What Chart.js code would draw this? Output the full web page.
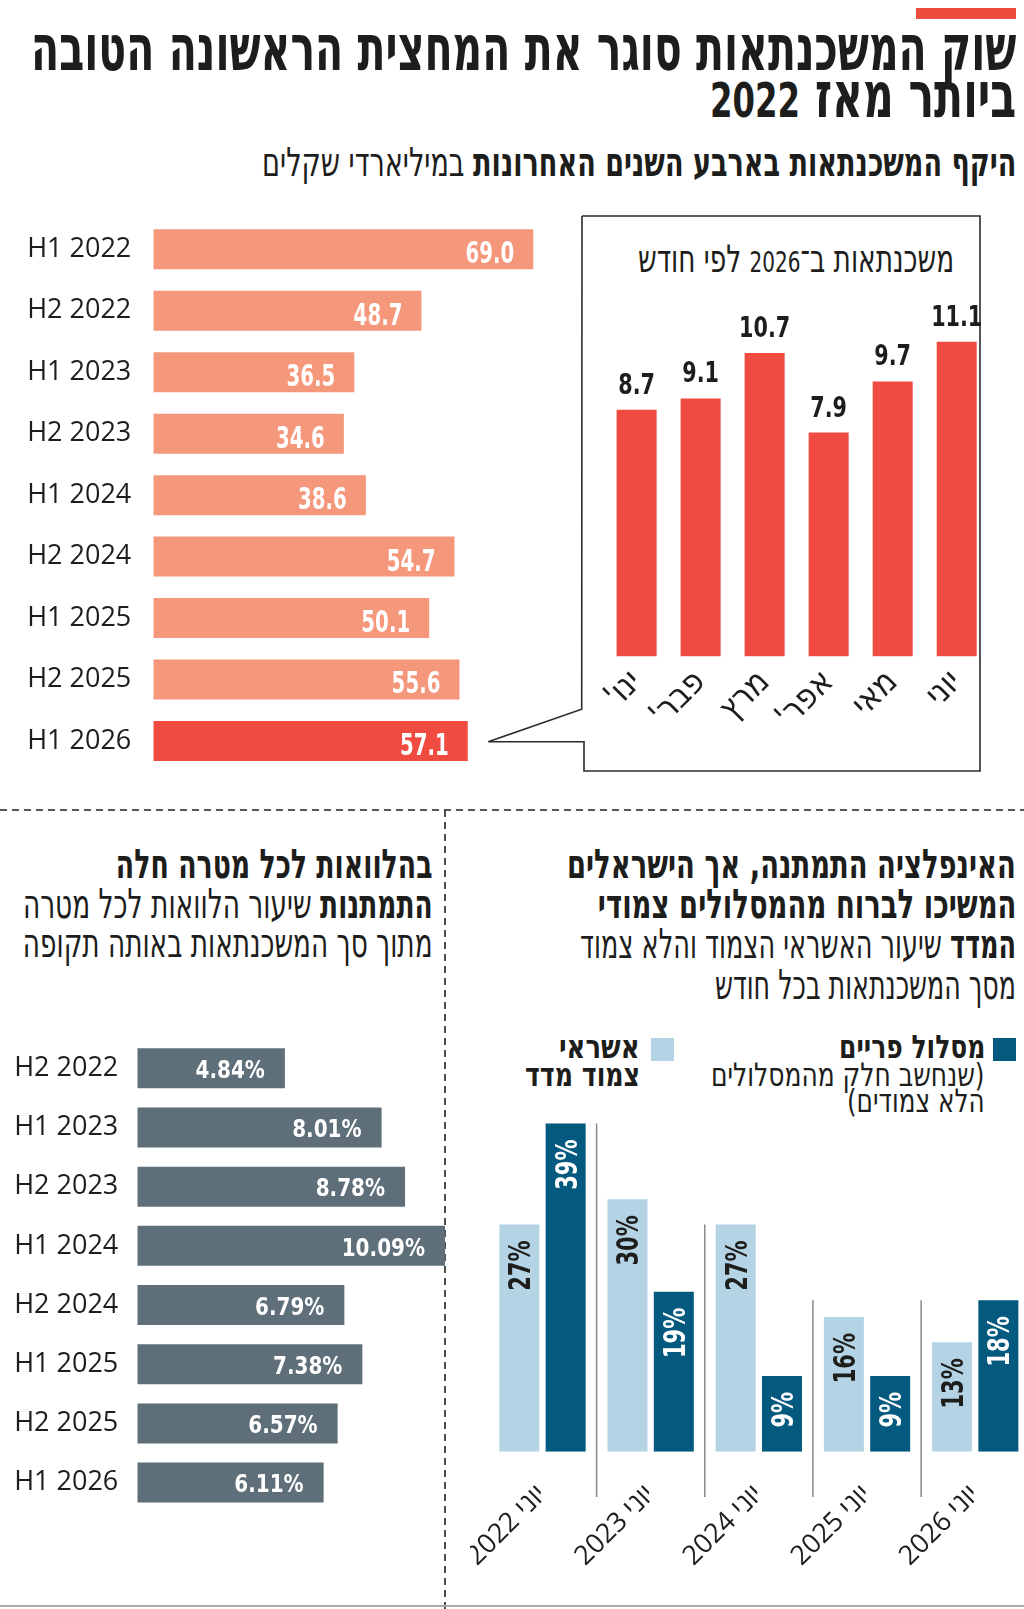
<!DOCTYPE html>
<html lang="he">
<head>
<meta charset="utf-8">
<script src="https://cdn.jsdelivr.net/npm/chart.js@4.4.1/dist/chart.umd.min.js"></script>
<style>
  html, body { margin: 0; padding: 0; background: #fff; }
  body { width: 1024px; height: 1609px; position: relative; overflow: hidden;
         font-family: 'DejaVu Sans Condensed', 'DejaVu Sans', sans-serif; color: #1d1d1b; }
  .ln { position: absolute; white-space: nowrap; direction: rtl; line-height: 1; transform-origin: 100% 50%; }
  .b { font-weight: bold; }
  .num { font-size: 0.76em; }
  .cv { position: absolute; }
  .sq { position: absolute; width: 23px; height: 23px; }
</style>
</head>
<body>

<!-- קישוטים: פס אדום, מסגרת עם חץ, קווים מקווקווים -->
<div style="position:absolute;left:916px;top:8px;width:100px;height:11px;background:#ee4b3f"></div>
<svg width="1024" height="1609" style="position:absolute;left:0;top:0">
  <polyline points="582,216 980,216 980,771 584,771 584,741.7 488.3,741.7 581.7,709.3 582,216"
            fill="none" stroke="#2b2b2b" stroke-width="1.6"/>
  <line x1="0" y1="810" x2="1024" y2="810" stroke="#222" stroke-width="1.6" stroke-dasharray="7 5"/>
  <line x1="445" y1="810" x2="445" y2="1609" stroke="#222" stroke-width="1.6" stroke-dasharray="7 5"/>
  <line x1="0" y1="1606" x2="1024" y2="1606" stroke="#aaa" stroke-width="2"/>
</svg>

<!-- כותרות -->
<div class="ln b" style="right:8px;top:16px;font-size:64px" data-w="985">שוק המשכנתאות סוגר את המחצית הראשונה הטובה</div>
<div class="ln b" style="right:8px;top:63px;font-size:64px" data-w="306">ביותר מאז <span class="num">2022</span></div>
<div class="ln" style="right:8px;top:142px;font-size:40px" data-w="754"><span class="b">היקף המשכנתאות בארבע השנים האחרונות</span> במיליארדי שקלים</div>
<div class="ln" style="right:70px;top:240px;font-size:38px" data-w="316">משכנתאות ב־<span class="num">2026</span> לפי חודש</div>

<div class="ln b" style="right:591px;top:844px;font-size:41px" data-w="317">בהלוואות לכל מטרה חלה</div>
<div class="ln" style="right:591px;top:884px;font-size:41px" data-w="410"><span class="b">התמתנות</span> שיעור הלוואות לכל מטרה</div>
<div class="ln" style="right:591px;top:923px;font-size:41px" data-w="410">מתוך סך המשכנתאות באותה תקופה</div>

<div class="ln b" style="right:8px;top:844px;font-size:41px" data-w="449">האינפלציה התמתנה, אך הישראלים</div>
<div class="ln b" style="right:8px;top:884px;font-size:41px" data-w="419">המשיכו לברוח מהמסלולים צמודי</div>
<div class="ln" style="right:8px;top:924px;font-size:41px" data-w="436"><span class="b">המדד</span> שיעור האשראי הצמוד והלא צמוד</div>
<div class="ln" style="right:8px;top:965px;font-size:41px" data-w="301">מסך המשכנתאות בכל חודש</div>

<!-- מקרא -->
<div class="sq" style="left:993px;top:1038px;background:#03597e"></div>
<div class="ln b" style="right:39px;top:1031px;font-size:32px" data-w="146">מסלול פריים</div>
<div class="ln" style="right:39px;top:1059px;font-size:32px" data-w="274">(שנחשב חלק מהמסלולים</div>
<div class="ln" style="right:39px;top:1085px;font-size:32px" data-w="138">הלא צמודים)</div>
<div class="sq" style="left:651px;top:1038px;background:#b4d4e6"></div>
<div class="ln b" style="right:384px;top:1031px;font-size:32px" data-w="81">אשראי</div>
<div class="ln b" style="right:384px;top:1059px;font-size:32px" data-w="115">צמוד מדד</div>

<div class="cv" style="left:0;top:200px"><canvas id="volumeChart" width="580" height="590"></canvas></div>
<div class="cv" style="left:570px;top:290px"><canvas id="monthChart" width="440" height="490" dir="rtl"></canvas></div>
<div class="cv" style="left:0;top:1020px"><canvas id="loanChart" width="460" height="520"></canvas></div>
<div class="cv" style="left:470px;top:1090px"><canvas id="linkChart" width="570" height="519" dir="rtl"></canvas></div>

<script>
// --- נתונים ---
const halfLabels = ['H1 2022', 'H2 2022', 'H1 2023', 'H2 2023', 'H1 2024', 'H2 2024', 'H1 2025', 'H2 2025', 'H1 2026'];
const volumeValues = [69.0, 48.7, 36.5, 34.6, 38.6, 54.7, 50.1, 55.6, 57.1];

const monthLabels = ["ינו'", "פבר'", 'מרץ', "אפר'", 'מאי', 'יוני'];
const monthValues = [8.7, 9.1, 10.7, 7.9, 9.7, 11.1];

const loanLabels = ['H2 2022', 'H1 2023', 'H2 2023', 'H1 2024', 'H2 2024', 'H1 2025', 'H2 2025', 'H1 2026'];
const loanValues = [4.84, 8.01, 8.78, 10.09, 6.79, 7.38, 6.57, 6.11];

const yearLabels = ['יוני 2022', 'יוני 2023', 'יוני 2024', 'יוני 2025', 'יוני 2026'];
const indexedShare = [27, 30, 27, 16, 13];   // אשראי צמוד מדד
const primeShare = [39, 19, 9, 9, 18];       // מסלול פריים
const separatorTops = [39, 27, 18, 18];

// מתיחת שורות הטקסט לרוחב שבמקור
document.querySelectorAll('.ln').forEach(el => {
    const w = +el.dataset.w;
    el.style.transform = `scaleX(${w / el.offsetWidth})`;
});

const TXT = '#1d1d1b';
Chart.defaults.animation = false;
Chart.defaults.font.family = "'Open Sans', 'DejaVu Sans', sans-serif";
Chart.defaults.plugins.legend.display = false;
Chart.defaults.plugins.tooltip.enabled = false;

// תוויות ערכים על העמודות (גופן צר)
const valueLabels = {
    id: 'valueLabels',
    afterDatasetsDraw(chart, args, o) {
        if (!o || !o.mode) return;
        const ctx = chart.ctx;
        chart.data.datasets.forEach((ds, di) => {
            chart.getDatasetMeta(di).data.forEach((bar, i) => {
                const txt = o.format(ds.data[i]);
                const dh = o.size * 0.729;
                ctx.save();
                ctx.font = `bold ${o.size}px 'DejaVu Sans'`;
                ctx.fillStyle = o.colors[di];
                ctx.textBaseline = 'alphabetic';
                if (o.mode === 'end') {
                    ctx.translate(bar.x - o.pad, bar.y + o.dy + dh / 2);
                    ctx.scale(o.sx, 1);
                    ctx.textAlign = 'right';
                } else if (o.mode === 'top') {
                    ctx.translate(bar.x, bar.y - o.pad);
                    ctx.scale(o.sx, 1);
                    ctx.textAlign = 'center';
                } else {
                    ctx.translate(bar.x + dh / 2, bar.y + o.pad);
                    ctx.rotate(-Math.PI / 2);
                    ctx.scale(o.sx, 1);
                    ctx.textAlign = 'right';
                }
                ctx.fillText(txt, 0, 0);
                ctx.restore();
            });
        });
    }
};

// קווי הפרדה בין השנים
const groupSeparators = {
    id: 'groupSeparators',
    beforeDatasetsDraw(chart, args, o) {
        if (!o || !o.tops) return;
        const ctx = chart.ctx, x = chart.scales.x, y = chart.scales.y;
        ctx.save();
        ctx.strokeStyle = '#8a8a8a';
        ctx.lineWidth = 1.5;
        o.tops.forEach((v, i) => {
            const px = (x.getPixelForTick(i) + x.getPixelForTick(i + 1)) / 2;
            ctx.beginPath();
            ctx.moveTo(px, y.getPixelForValue(v));
            ctx.lineTo(px, y.getPixelForValue(0) + o.below);
            ctx.stroke();
        });
        ctx.restore();
    }
};
Chart.register(valueLabels, groupSeparators);

const noGrid = { display: false, drawTicks: false };
// הצירים לא יבקשו מקום נוסף לתוויות בקצוות
const fitY = w => s => { s.width = w; s.paddingTop = 0; s.paddingBottom = 0; };
const fitX = h => s => { s.height = h; s.paddingLeft = 0; s.paddingRight = 0; };

// היקף המשכנתאות לפי חצי שנה
new Chart(document.getElementById('volumeChart'), {
    type: 'bar',
    data: {
        labels: halfLabels,
        datasets: [{
            data: volumeValues,
            backgroundColor: volumeValues.map((v, i) => i === volumeValues.length - 1 ? '#ef4b40' : '#f5977b'),
            barPercentage: 0.651, categoryPercentage: 1
        }]
    },
    options: {
        responsive: false, indexAxis: 'y',
        layout: { padding: { top: 18.6, bottom: 18.3, left: 0, right: 13.7 } },
        scales: {
            x: { display: false, min: 0, max: 75 },
            y: {
                grid: noGrid, border: { display: false },
                ticks: { color: TXT, padding: 22, font: { size: 27 } },
                afterFit: fitY(153.3)
            }
        },
        plugins: { valueLabels: { mode: 'end', size: 30, sx: 0.66, pad: 19, dy: 3, colors: ['#fff'], format: v => v.toFixed(1) } }
    }
});

// משכנתאות 2026 לפי חודש
new Chart(document.getElementById('monthChart'), {
    type: 'bar',
    data: {
        labels: monthLabels,
        datasets: [{ data: monthValues, backgroundColor: '#ef4b40', barPercentage: 0.625, categoryPercentage: 1 }]
    },
    options: {
        responsive: false,
        layout: { padding: { top: 26.2, bottom: 0, left: 34.6, right: 21.3 } },
        scales: {
            y: { display: false, min: 0, max: 12 },
            x: {
                grid: noGrid, border: { display: false },
                ticks: { color: TXT, padding: 6, maxRotation: 45, minRotation: 45, autoSkip: false,
                         font: { size: 34, family: "'DejaVu Sans Condensed', 'DejaVu Sans'" } },
                afterFit: fitX(123.4)
            }
        },
        plugins: { valueLabels: { mode: 'top', size: 28, sx: 0.74, pad: 16, colors: [TXT], format: v => v.toFixed(1) } }
    }
});

// הלוואות לכל מטרה
new Chart(document.getElementById('loanChart'), {
    type: 'bar',
    data: {
        labels: loanLabels,
        datasets: [{ data: loanValues, backgroundColor: '#5f6f7a', barPercentage: 0.676, categoryPercentage: 1 }]
    },
    options: {
        responsive: false, indexAxis: 'y',
        layout: { padding: { top: 18.7, bottom: 27.8, left: 0, right: 2.5 } },
        scales: {
            x: { display: false, min: 0, max: 10.5 },
            y: {
                grid: noGrid, border: { display: false },
                ticks: { color: TXT, padding: 19, font: { size: 27 } },
                afterFit: fitY(137.3)
            }
        },
        plugins: { valueLabels: { mode: 'end', size: 25, sx: 0.8, pad: 20, dy: 0.7, colors: ['#fff'], format: v => v.toFixed(2) + '%' } }
    }
});

// צמוד מדד מול פריים
new Chart(document.getElementById('linkChart'), {
    type: 'bar',
    data: {
        labels: yearLabels,
        datasets: [
            { label: 'אשראי צמוד מדד', data: indexedShare, backgroundColor: '#b4d4e6', barPercentage: 0.864, categoryPercentage: 0.856 },
            { label: 'מסלול פריים', data: primeShare, backgroundColor: '#03597e', barPercentage: 0.864, categoryPercentage: 0.856 }
        ]
    },
    options: {
        responsive: false,
        layout: { padding: { top: 8.3, bottom: 0, left: 18.4, right: 10.7 } },
        scales: {
            y: { display: false, min: 0, max: 42 },
            x: {
                grid: noGrid, border: { display: false },
                ticks: { color: TXT, padding: 27, maxRotation: 45, minRotation: 45, autoSkip: false, font: { size: 27 } },
                afterFit: fitX(157.3)
            }
        },
        plugins: {
            groupSeparators: { tops: separatorTops, below: 45.3 },
            valueLabels: { mode: 'vertical', size: 30, sx: 0.7, pad: 16, colors: [TXT, '#fff'], format: v => v + '%' }
        }
    }
});
</script>
</body>
</html>
